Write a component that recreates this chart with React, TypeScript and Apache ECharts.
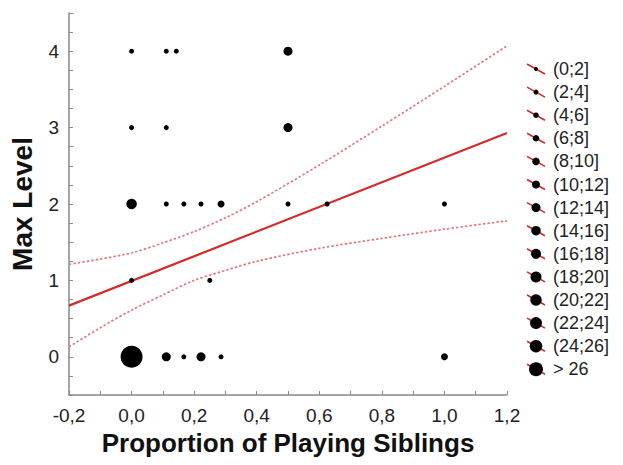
import React, { useEffect, useRef } from "react";
import * as echarts from "echarts";

// Observations: proportion of playing siblings (x), max level (y), number of cases (count)
const pointX = [0, 0.111, 0.167, 0.222, 0.286, 1.0, 0, 0.25, 0, 0.111, 0.167, 0.222, 0.286, 0.5, 0.625, 1.0, 0, 0.111, 0.5, 0, 0.111, 0.143, 0.5];
const pointY = [0, 0, 0, 0, 0, 0, 1, 1, 2, 2, 2, 2, 2, 2, 2, 2, 3, 3, 3, 4, 4, 4, 4];
const pointCount = [30, 7, 1, 7, 1, 3, 2, 1, 9, 1, 1, 1, 3, 1, 1, 1, 1, 1, 7, 1, 1, 1, 7];

// Fitted regression line
const fitX = [-0.2, 1.2];
const fitY = [0.67, 2.93];

// Confidence band
const ciX = [-0.2, -0.1, 0, 0.1, 0.2, 0.3, 0.4, 0.6, 0.8, 1.0, 1.2];
const ciUpper = [1.21, 1.28, 1.36, 1.49, 1.64, 1.82, 2.03, 2.51, 3.02, 3.54, 4.07];
const ciLower = [0.13, 0.38, 0.61, 0.81, 1.0, 1.13, 1.25, 1.42, 1.55, 1.67, 1.78];

// Legend classes (count ranges)
const legendLabels = ["(0;2]", "(2;4]", "(4;6]", "(6;8]", "(8;10]", "(10;12]", "(12;14]", "(14;16]", "(16;18]", "(18;20]", "(20;22]", "(22;24]", "(24;26]", "> 26"];
const legendSymbolSizes = [4, 5, 5.5, 6.5, 7.5, 8, 9, 9.5, 10, 11, 11.5, 12, 12.5, 14];
const plotSymbolSizes = [5, 7, 8, 9, 10.5, 11.5, 12.5, 13.5, 14.5, 15.5, 16.5, 17.5, 18.5, 22];

const FONT = "'Liberation Sans', Arial, sans-serif";
const RED = "#d42a2a";
const PINK = "#e07b7b";

function classIndex(n: number): number {
  if (n > 26) return 13;
  return Math.max(0, Math.ceil(n / 2) - 1);
}

export default function App() {
  const ref = useRef<HTMLDivElement>(null);
  useEffect(() => {
    if (!ref.current) return;
    const chart = echarts.init(ref.current, undefined, { renderer: "svg" });

    const legendGraphics: any[] = [];
    legendLabels.forEach((lab, i) => {
      const y = 69 + i * 23.1;
      legendGraphics.push({
        type: "line",
        shape: { x1: 527, y1: y - 5, x2: 545, y2: y + 5 },
        style: { stroke: RED, lineWidth: 1.6 },
        silent: true,
      });
      legendGraphics.push({
        type: "circle",
        shape: { cx: 536, cy: y, r: legendSymbolSizes[i] / 2 },
        style: { fill: "#000" },
        silent: true,
      });
      legendGraphics.push({
        type: "text",
        x: 553,
        y: y,
        style: { text: lab, fontSize: 18, fontFamily: FONT, fill: "#222", verticalAlign: "middle", align: "left" },
        silent: true,
      });
    });

    const axisCommon = {
      type: "value" as const,
      axisLine: { show: true, onZero: false, lineStyle: { color: "#888", width: 1.5 } },
      axisTick: { show: true, inside: true, length: 4, lineStyle: { color: "#888", width: 1 } },
      splitLine: { show: false },
    };

    chart.setOption({
      animation: false,
      backgroundColor: "#fff",
      grid: { left: 64, right: 116, top: 13, bottom: 70, containLabel: false },
      xAxis: {
        ...axisCommon,
        min: -0.2,
        max: 1.2,
        interval: 0.1,
        name: "Proportion of Playing Siblings",
        nameLocation: "middle",
        nameGap: 35,
        nameTextStyle: { fontSize: 26, fontWeight: "bold", color: "#111", fontFamily: FONT },
        axisLabel: {
          color: "#222",
          fontSize: 19,
          fontFamily: FONT,
          margin: 11,
          formatter: (v: number) => {
            const t = Math.round(v * 10);
            if (t % 2 !== 0) return "";
            return (t / 10).toFixed(1).replace(".", ",");
          },
        },
      },
      yAxis: {
        ...axisCommon,
        min: -0.5,
        max: 4.5,
        interval: 0.25,
        name: "Max Level",
        nameLocation: "middle",
        nameGap: 33,
        nameTextStyle: { fontSize: 28, fontWeight: "bold", color: "#111", fontFamily: FONT },
        axisLabel: {
          color: "#222",
          fontSize: 19,
          fontFamily: FONT,
          margin: 10,
          formatter: (v: number) => {
            const r = Math.round(v);
            if (Math.abs(v - r) > 1e-6) return "";
            return String(r);
          },
        },
      },
      series: [
        {
          type: "line",
          data: ciX.map((x, i) => [x, ciUpper[i]]),
          smooth: 0.3,
          showSymbol: false,
          lineStyle: { color: PINK, width: 1.7, type: [2.5, 2] },
          z: 2,
        },
        {
          type: "line",
          data: ciX.map((x, i) => [x, ciLower[i]]),
          smooth: 0.3,
          showSymbol: false,
          lineStyle: { color: PINK, width: 1.7, type: [2.5, 2] },
          z: 2,
        },
        {
          type: "line",
          data: fitX.map((x, i) => [x, fitY[i]]),
          showSymbol: false,
          lineStyle: { color: RED, width: 2.2 },
          z: 3,
        },
        {
          type: "scatter",
          data: pointX.map((x, i) => [x, pointY[i], pointCount[i]]),
          symbol: "circle",
          symbolSize: (d: number[]) => plotSymbolSizes[classIndex(d[2])],
          itemStyle: { color: "#000", opacity: 1 },
          z: 4,
        },
      ],
      graphic: legendGraphics,
    });
    return () => chart.dispose();
  }, []);

  return <div ref={ref} style={{ position: "fixed", left: 0, top: 0, width: 623, height: 465 }} />;
}
